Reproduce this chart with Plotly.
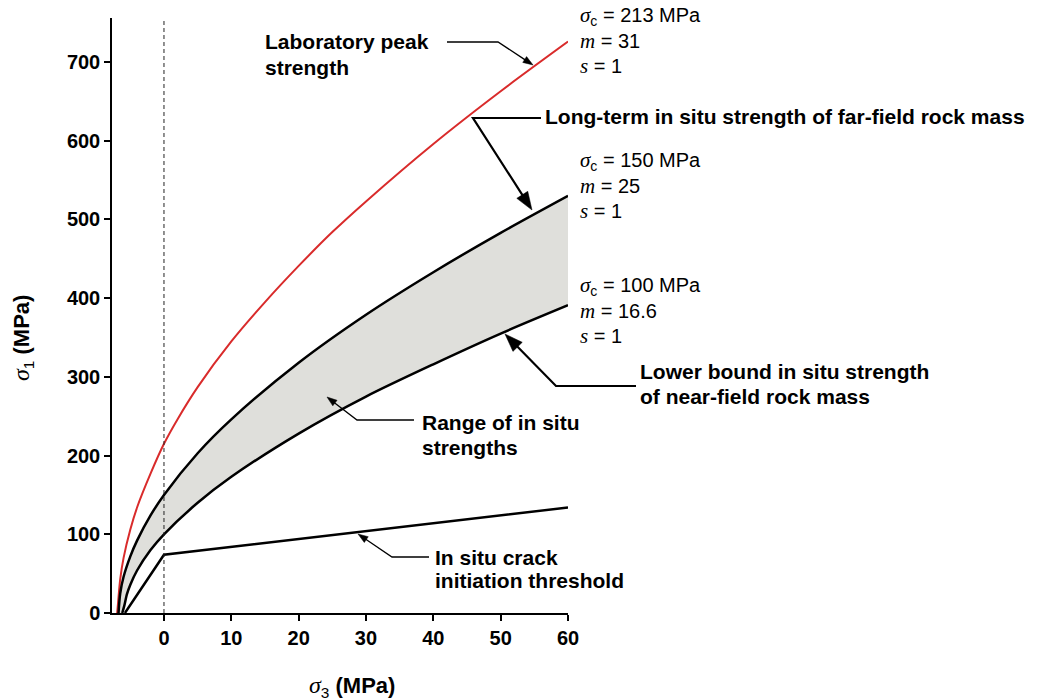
import math
import plotly.graph_objects as go

# ---- data ----
sigma3_lab = [-6.95, -6.8, -6.5, -6.0, -5.0, -4.0, -2.0, 0, 2, 5, 10, 15, 20, 25, 30, 40, 50, 60]
sigma1_lab = [0, 15, 43, 70, 106, 134, 177, 215, 246, 287, 345, 395, 441, 484, 523, 596, 663, 726]

sigma3_far = [-6.75, -6.5, -6.0, -5.0, -4.0, -2.0, 0, 5, 10, 20, 30, 40, 50, 60]
sigma1_far = [0, 25, 46, 72, 92, 124, 150, 203, 246, 318, 379, 433, 483, 530]

sigma3_near = [-6.2, -5.9, -5.5, -5.0, -4.0, -2.0, 0, 5, 10, 20, 30, 40, 50, 60]
sigma1_near = [0, 9, 24, 36, 54, 80, 100, 140, 173, 228, 275, 316, 355, 391]

sigma3_crack = [-5.8, 0, 60]
sigma1_crack = [0, 74, 134]

x_ticks = [0, 10, 20, 30, 40, 50, 60]
y_ticks = [0, 100, 200, 300, 400, 500, 600, 700]

params_lab = ["213 MPa", "31", "1"]
params_far = ["150 MPa", "25", "1"]
params_near = ["100 MPa", "16.6", "1"]

# ---- layout geometry (pixels) ----
W, H = 1048, 700
L, R, T, B = 112, 568, 18, 613


def px(x):
    return (x - L) / (R - L)


def py(y):
    return (B - y) / (B - T)


SANS = "Liberation Sans, Arial, sans-serif"
SERIF = "Liberation Serif"

fig = go.Figure()

# shaded range between far-field and near-field curves
fig.add_trace(go.Scatter(x=sigma3_near, y=sigma1_near, mode="lines",
                         line=dict(width=0, shape="spline", smoothing=0.8),
                         hoverinfo="skip", showlegend=False))
fig.add_trace(go.Scatter(x=sigma3_far, y=sigma1_far, mode="lines",
                         line=dict(width=0, shape="spline", smoothing=0.8),
                         fill="tonexty", fillcolor="#dfdfdb",
                         hoverinfo="skip", showlegend=False))

# curves
fig.add_trace(go.Scatter(x=sigma3_lab, y=sigma1_lab, mode="lines",
                         line=dict(color="#d92b2b", width=2, shape="spline", smoothing=0.8),
                         showlegend=False))
fig.add_trace(go.Scatter(x=sigma3_far, y=sigma1_far, mode="lines",
                         line=dict(color="black", width=2.5, shape="spline", smoothing=0.8),
                         showlegend=False))
fig.add_trace(go.Scatter(x=sigma3_near, y=sigma1_near, mode="lines",
                         line=dict(color="black", width=2.5, shape="spline", smoothing=0.8),
                         showlegend=False))
fig.add_trace(go.Scatter(x=sigma3_crack, y=sigma1_crack, mode="lines",
                         line=dict(color="black", width=2.5),
                         showlegend=False))

# dashed vertical line at sigma3 = 0
fig.add_shape(type="line", xref="x", yref="y", x0=0, x1=0, y0=0, y1=756,
              line=dict(color="#222222", width=1, dash="4px,3px"))

annotations = []


def text(x, y, s, bold=True, size=21):
    annotations.append(dict(xref="paper", yref="paper", x=px(x), y=py(y),
                            text=("<b>%s</b>" % s) if bold else s,
                            showarrow=False, xanchor="left", yanchor="middle",
                            font=dict(family=SANS, size=size, color="black")))


def sig(s, size):
    return "<span style=\"font-family:%s;font-size:%dpx\"><i>%s</i></span>" % (SERIF, size, s)


def param_block(x, y0, vals):
    text(x, y0, sig("σ", 21) + "<sub>c</sub> = " + vals[0], bold=False, size=20)
    text(x, y0 + 25, sig("m", 21) + " = " + vals[1], bold=False, size=20)
    text(x, y0 + 50, sig("s", 21) + " = " + vals[2], bold=False, size=20)


param_block(578, 16, params_lab)
param_block(578, 161, params_far)
param_block(578, 286, params_near)

text(263, 42, "Laboratory peak")
text(263, 67, "strength")
text(543, 117, "Long-term in situ strength of far-field rock mass")
text(638, 371, "Lower bound in situ strength")
text(638, 396, "of near-field rock mass")
text(420, 422, "Range of in situ")
text(420, 447, "strengths")
text(433, 557, "In situ crack")
text(433, 580, "initiation threshold")

# leader lines: horizontal segment + diagonal + filled arrowhead
leaders = [
    # (horizontal start x, corner x, y, tip x, tip y, width, head length, head half-width)
    (447, 498, 42, 533, 65, 1.3, 10, 3.5),
    (541, 473, 118, 532, 210, 2.2, 18, 6.5),
    (636, 556, 386, 505, 334, 2.2, 18, 6.5),
    (414, 357, 420, 327, 397, 1.3, 10, 3.5),
    (429, 392, 557, 358, 534, 1.3, 10, 3.5),
]
for hx, cx, yy, tx, ty, w, hl, hw in leaders:
    dx, dy = tx - cx, ty - yy
    d = math.hypot(dx, dy)
    ux, uy = dx / d, dy / d
    bx, by = tx - ux * hl, ty - uy * hl
    nx, ny = -uy, ux
    path = "M %.5f %.5f L %.5f %.5f L %.5f %.5f" % (
        px(hx), py(yy), px(cx), py(yy), px(bx + ux * 1.5), py(by + uy * 1.5))
    fig.add_shape(type="path", xref="paper", yref="paper", path=path,
                  line=dict(color="black", width=w))
    tri = "M %.5f %.5f L %.5f %.5f L %.5f %.5f Z" % (
        px(tx), py(ty), px(bx + nx * hw), py(by + ny * hw), px(bx - nx * hw), py(by - ny * hw))
    fig.add_shape(type="path", xref="paper", yref="paper", path=tri,
                  fillcolor="black", line=dict(color="black", width=0.5))

# axis titles
annotations.append(dict(xref="paper", yref="paper", x=px(352), y=py(686),
                        text=sig("σ", 24) + "<sub>3</sub><b> (MPa)</b>",
                        showarrow=False, xanchor="center", yanchor="middle",
                        font=dict(family=SANS, size=22, color="black")))
annotations.append(dict(xref="paper", yref="paper", x=px(22), y=py(338),
                        text=sig("σ", 24) + "<sub>1</sub><b> (MPa)</b>",
                        showarrow=False, xanchor="center", yanchor="middle",
                        textangle=-90,
                        font=dict(family=SANS, size=22, color="black")))

fig.update_layout(
    width=W, height=H,
    margin=dict(l=L, r=W - R, t=T, b=H - B),
    plot_bgcolor="white", paper_bgcolor="white",
    annotations=annotations,
    xaxis=dict(range=[-7.72, 60], tickvals=x_ticks, showgrid=False, zeroline=False,
               showline=True, linecolor="black", linewidth=1.5,
               ticks="outside", ticklen=6, tickwidth=1.5, tickcolor="black",
               tickfont=dict(family=SANS, size=20, color="black", weight="bold")),
    yaxis=dict(range=[0, 756], tickvals=y_ticks, showgrid=False, zeroline=False,
               showline=True, linecolor="black", linewidth=1.5,
               ticks="outside", ticklen=6, tickwidth=1.5, tickcolor="black",
               tickfont=dict(family=SANS, size=20, color="black", weight="bold")),
)

fig.write_html("out.html")
